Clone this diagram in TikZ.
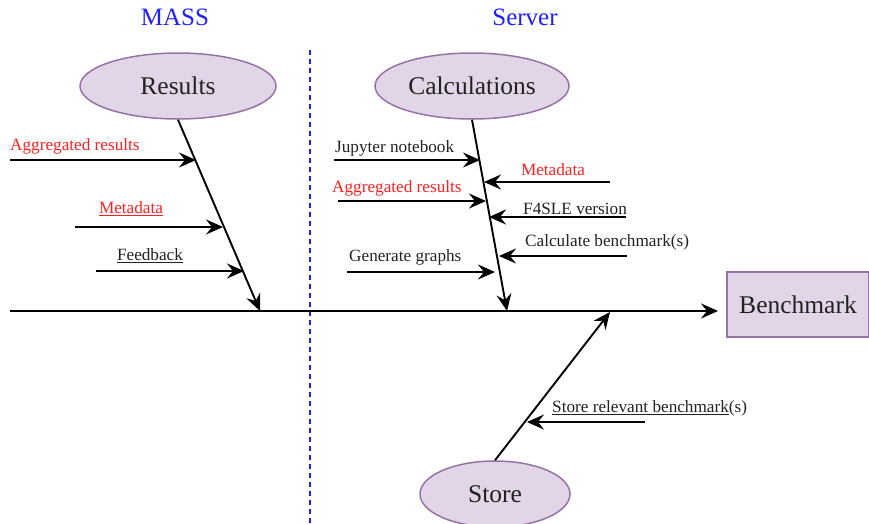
\documentclass[tikz,border=0pt]{standalone}
\usepackage{fontspec}
\setmainfont{Liberation Serif}
\usetikzlibrary{shapes.geometric,arrows.meta}
\definecolor{fillp}{HTML}{E1D5E7}
\definecolor{drawp}{HTML}{9673A6}
\definecolor{redt}{HTML}{FF2020}
\definecolor{bluet}{HTML}{2020FF}
\definecolor{blackt}{HTML}{222222}
\tikzset{
  bubble/.style={ellipse,draw=drawp,fill=fillp,line width=1.5pt,inner sep=0pt,font=\fontsize{25.5}{30}\selectfont,text=blackt},
  boxnode/.style={rectangle,draw=drawp,fill=fillp,line width=1.5pt,inner sep=0pt,font=\fontsize{25.5}{30}\selectfont,text=blackt},
  title/.style={font=\fontsize{25}{30}\selectfont,text=bluet,inner sep=0pt},
  lab/.style={font=\fontsize{17.2}{20}\selectfont,text=blackt,inner sep=0pt},
  redlab/.style={lab,text=redt},
  arr/.style={line width=1.9pt,-{Stealth[length=17pt,width=15pt,inset=6pt]}},
  spine/.style={line width=2pt,-{Stealth[length=17pt,width=15pt,inset=6pt]}},
}
\begin{document}
\begin{tikzpicture}[x=1pt,y=-1pt]
\useasboundingbox (0,0) rectangle (869,523);
% titles
\node[title] (tmass) at (175,17) {MASS};
\node[title] (tserver) at (525,17) {Server};
% divider
\coordinate (dtop) at (310,50);
\coordinate (dbot) at (310,523);
\draw[bluet,line width=1.5pt,dash pattern=on 5pt off 4pt] (dtop) -- (dbot);
% main nodes
\node[bubble,minimum width=196pt,minimum height=66pt] (res) at (178,86) {\raisebox{-1.5pt}{Results}};
\node[bubble,minimum width=194pt,minimum height=66pt] (calc) at (472,86) {\raisebox{-1.5pt}{Calculations}};
\node[bubble,minimum width=150pt,minimum height=66pt] (store) at (495,494) {\raisebox{-1.5pt}{Store}};
\node[boxnode,minimum width=142pt,minimum height=65pt] (bench) at (798,304.5) {\raisebox{-1pt}{Benchmark}};
% spine
\coordinate (spL) at (10,311);
\coordinate (spR) at (718,311);
\draw[spine] (spL) -- (spR);
% bones
\coordinate (resE) at (260,311);
\coordinate (calcE) at (507,311);
\coordinate (storeE) at (610,312);
\draw[arr] (res.south) -- (resE);
\draw[arr] (calc.south) -- (calcE);
\draw[arr] (store.north) -- (storeE);
% MASS side labels
\node[redlab,anchor=west] (l1) at (10,146.5) {Aggregated results};
\coordinate (a1s) at (10,160); \coordinate (a1e) at (196,160);
\draw[arr] (a1s) -- (a1e);
\node[redlab] (l2) at (131,208.5) {\underline{Metadata}};
\coordinate (a2s) at (75,227); \coordinate (a2e) at (223,227);
\draw[arr] (a2s) -- (a2e);
\node[lab] (l3) at (150,255.5) {\underline{Feedback}};
\coordinate (a3s) at (96,271); \coordinate (a3e) at (244,271);
\draw[arr] (a3s) -- (a3e);
% Server side labels
\node[lab,anchor=west] (l4) at (335,148.5) {Jupyter notebook};
\coordinate (a4s) at (334,160); \coordinate (a4e) at (480,160);
\draw[arr] (a4s) -- (a4e);
\node[redlab] (l5) at (553,169.5) {Metadata};
\coordinate (a5s) at (610,182); \coordinate (a5e) at (484,182);
\draw[arr] (a5s) -- (a5e);
\node[redlab,anchor=west] (l6) at (332,188.5) {Aggregated results};
\coordinate (a6s) at (338,201); \coordinate (a6e) at (486,201);
\draw[arr] (a6s) -- (a6e);
\node[lab,anchor=west] (l7) at (523,208.5) {F4SLE version};
\coordinate (a7s) at (626,217); \coordinate (a7e) at (489,217);
\draw[arr] (a7s) -- (a7e);
\node[lab,anchor=west] (l8) at (525,242.5) {Calculate benchmark(s)};
\coordinate (a8s) at (627,256); \coordinate (a8e) at (499,256);
\draw[arr] (a8s) -- (a8e);
\node[lab,anchor=west] (l9) at (349,257.5) {Generate graphs};
\coordinate (a9s) at (347,272); \coordinate (a9e) at (495,272);
\draw[arr] (a9s) -- (a9e);
% Store label
\node[lab,anchor=west] (l10) at (552,408.5) {\underline{Store relevant benchmark}(s)};
\coordinate (a10s) at (645,422); \coordinate (a10e) at (527,422);
\draw[arr] (a10s) -- (a10e);
\end{tikzpicture}
\end{document}
